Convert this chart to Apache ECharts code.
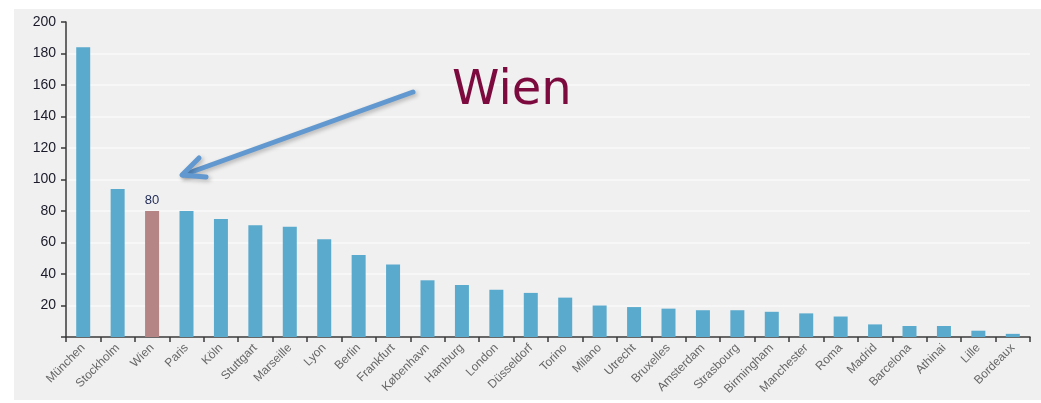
<!DOCTYPE html>
<html>
<head>
<meta charset="utf-8">
<script src="https://cdn.jsdelivr.net/npm/echarts@6/dist/echarts.min.js"></script>
<style>
  html, body { margin: 0; padding: 0; background: #ffffff; }
  #chart { width: 1041px; height: 403px; }
</style>
</head>
<body>
<div id="chart"></div>
<script>
// Städte
const cities = ['München', 'Stockholm', 'Wien', 'Paris', 'Köln', 'Stuttgart', 'Marseille', 'Lyon',
  'Berlin', 'Frankfurt', 'København', 'Hamburg', 'London', 'Düsseldorf', 'Torino', 'Milano',
  'Utrecht', 'Bruxelles', 'Amsterdam', 'Strasbourg', 'Birmingham', 'Manchester', 'Roma',
  'Madrid', 'Barcelona', 'Athinai', 'Lille', 'Bordeaux']
const values = [184, 94, 80, 80, 75, 71, 70, 62, 52, 46, 36, 33, 30, 28, 25, 20,
  19, 18, 17, 17, 16, 15, 13, 8, 7, 7, 4, 2]
const highlight = 'Wien'
const yTicks = [0, 200, 20] // min, max, interval

const blue = '#5aaacd'
const rose = '#b58484'
const arrowBlue = '#6198cf'
const labelFont = '"Liberation Sans", "DejaVu Sans", sans-serif'

const chart = echarts.init(document.getElementById('chart'))

// gridlines: none on 0 (axis) and none on 200
const gridColors = []
for (let v = yTicks[0]; v <= yTicks[1]; v += yTicks[2]) {
  gridColors.push(v === yTicks[0] || v === yTicks[1] ? 'rgba(0,0,0,0)' : '#fafafa')
}

const arrowStyle = {
  stroke: arrowBlue,
  lineWidth: 5,
  lineCap: 'round',
  lineJoin: 'round',
  fill: null,
  shadowBlur: 4,
  shadowColor: 'rgba(0,0,0,0.25)',
  shadowOffsetX: 2,
  shadowOffsetY: 2
}

const option = {
  backgroundColor: '#ffffff',
  animation: false,
  grid: {
    left: 66,
    right: 11,
    top: 22,
    height: 315
  },
  graphic: [
    {
      type: 'rect',
      z: -10,
      shape: { x: 14, y: 9, width: 1027, height: 391 },
      style: { fill: '#f0f0f0' }
    },
    {
      type: 'text',
      left: 452,
      top: 68,
      z: 100,
      style: {
        text: 'Wien',
        fill: '#7d0a3e',
        font: '48px "DejaVu Sans"'
      }
    },
    {
      type: 'line',
      z: 100,
      shape: { x1: 413, y1: 92, x2: 183, y2: 175 },
      style: arrowStyle
    },
    {
      type: 'polyline',
      z: 100,
      shape: { points: [[199, 158], [182, 175], [206, 177]] },
      style: arrowStyle
    }
  ],
  xAxis: {
    type: 'category',
    data: cities,
    axisLine: { lineStyle: { color: '#3a3a3a', width: 1.5 } },
    axisTick: { show: true, length: 5, lineStyle: { color: '#3a3a3a', width: 1.5 } },
    axisLabel: {
      rotate: 45,
      interval: 0,
      margin: 9,
      color: '#666666',
      fontSize: 12,
      fontFamily: labelFont
    },
    splitLine: { show: false }
  },
  yAxis: {
    type: 'value',
    min: yTicks[0],
    max: yTicks[1],
    interval: yTicks[2],
    axisLine: { show: true, lineStyle: { color: '#3a3a3a', width: 1.5 } },
    axisTick: { show: true, length: 5, lineStyle: { color: '#3a3a3a', width: 1.5 } },
    axisLabel: {
      margin: 10,
      color: '#1a1a2a',
      fontSize: 14,
      fontFamily: labelFont,
      formatter: (v) => (v === 0 ? '' : v)
    },
    splitLine: { show: true, lineStyle: { color: gridColors, width: 1.5 } }
  },
  series: [
    {
      type: 'bar',
      barWidth: 14,
      data: values.map((v, i) => {
        if (cities[i] !== highlight) return { value: v, itemStyle: { color: blue } }
        return {
          value: v,
          itemStyle: { color: rose },
          label: {
            show: true,
            position: 'top',
            distance: 4,
            color: '#1f2a55',
            fontSize: 13,
            fontFamily: labelFont
          }
        }
      })
    }
  ]
}

chart.setOption(option)
</script>
</body>
</html>
